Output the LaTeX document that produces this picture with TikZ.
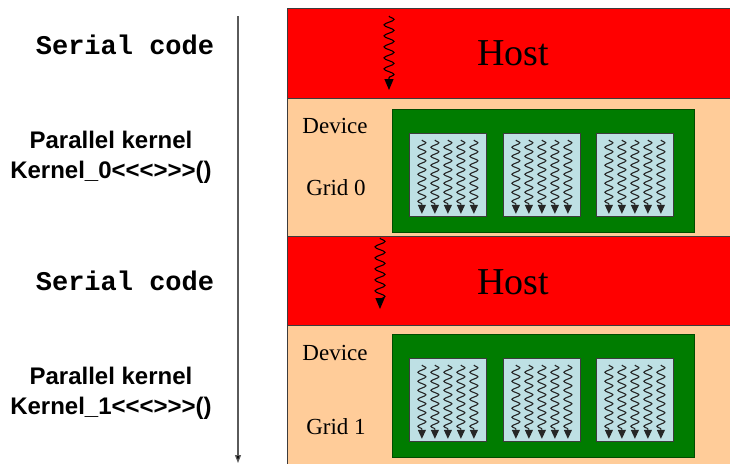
\documentclass[tikz,border=0pt]{standalone}
\usepackage{fontspec}
\setmainfont{Liberation Serif}
\newfontfamily\arialfont{Liberation Sans}
\newfontfamily\courfont{Liberation Mono}
\usetikzlibrary{arrows.meta,decorations.pathmorphing,calc}
\definecolor{hostred}{RGB}{255,0,0}
\definecolor{devpeach}{RGB}{255,204,153}
\definecolor{gridgreen}{RGB}{0,124,0}
\definecolor{blockblue}{RGB}{190,224,228}
\definecolor{edgegray}{RGB}{60,60,60}
\definecolor{timegray}{RGB}{90,90,90}

\begin{document}
\begin{tikzpicture}[x=1pt,y=-1pt,
  band/.style={draw=edgegray, line width=1pt, anchor=north west, inner sep=0pt, minimum width=450pt},
  hostband/.style={band, fill=hostred},
  devband/.style={band, fill=devpeach},
  gridbox/.style={draw=black!70!green, line width=0.8pt, fill=gridgreen, anchor=north west,
    inner sep=0pt, minimum width=302pt, minimum height=123pt},
  blockbox/.style={draw=edgegray, line width=0.8pt, fill=blockblue, anchor=north west,
    inner sep=0pt, minimum width=77pt, minimum height=83pt},
  hostlbl/.style={font=\fontsize{38}{44}\selectfont},
  devlbl/.style={font=\fontsize{23}{27}\selectfont},
  seriallbl/.style={font=\courfont\bfseries\fontsize{27}{30}\selectfont},
  kernellbl/.style={font=\arialfont\bfseries\fontsize{24}{30}\selectfont, align=center},
  hostthread/.style={decorate, decoration={snake, amplitude=5pt, segment length=11pt, post length=7pt},
    line width=1.1pt, -{Triangle[length=11pt,width=9pt]}},
  thread/.style={decorate, decoration={snake, amplitude=4pt, segment length=9pt, post length=6pt},
    line width=1.1pt, black!85, -{Triangle[length=9pt,width=8pt]}}
]
\useasboundingbox (0,0) rectangle (730,463);
\clip (0,0) rectangle (730,463);
\fill[white] (0,0) rectangle (730,463);

% host / device bands
\node[hostband, minimum height=90pt]  (host1) at (287,8)   {};
\node[devband,  minimum height=138pt] (dev1)  at (287,98)  {};
\node[hostband, minimum height=89pt]  (host2) at (287,236) {};
\node[devband,  minimum height=145pt] (dev2)  at (287,325) {};

\node[hostlbl] (hosttxt1) at (513,53)  {Host};
\node[hostlbl] (hosttxt2) at (513,282) {Host};

\node[devlbl] (devtxt1)  at (335,126) {Device};
\node[devlbl] (gridtxt0) at (336,188) {Grid 0};
\node[devlbl] (devtxt2)  at (335,353) {Device};
\node[devlbl] (gridtxt1) at (336,427) {Grid 1};

% serial host threads
\coordinate (h1s) at (389,16);
\coordinate (h1e) at (389,90);
\coordinate (h2s) at (380,238);
\coordinate (h2e) at (380,309);
\draw[hostthread] (h1s) -- (h1e);
\draw[hostthread] (h2s) -- (h2e);

% grids with their thread blocks
\node[gridbox] (grid0) at (392,109) {};
\node[gridbox] (grid1) at (392,334) {};
\foreach \g/\y in {0/133, 1/358}{
  \foreach \b/\x in {a/409, b/503, c/596}{
    \node[blockbox] (blk\g\b) at (\x,\y) {};
    \foreach \dx in {-26,-13,0,13,26}{
      \draw[thread] ($(blk\g\b.north)+(\dx,7)$) -- ($(blk\g\b.south)+(\dx,-3)$);
    }
  }
}

% program listing on the left
\node[seriallbl] (ser1) at (125,45)  {Serial code};
\node[kernellbl] (ker0) at (111,157) {Parallel kernel\\Kernel\_0<<<>>>()};
\node[seriallbl] (ser2) at (125,281) {Serial code};
\node[kernellbl] (ker1) at (111,393) {Parallel kernel\\Kernel\_1<<<>>>()};

% time axis
\coordinate (t0) at (238,16);
\coordinate (t1) at (238,463);
\draw[timegray, line width=1.2pt, -{Triangle[length=8pt,width=6pt,fill=black]}] (t0) -- (t1);
\end{tikzpicture}
\end{document}
